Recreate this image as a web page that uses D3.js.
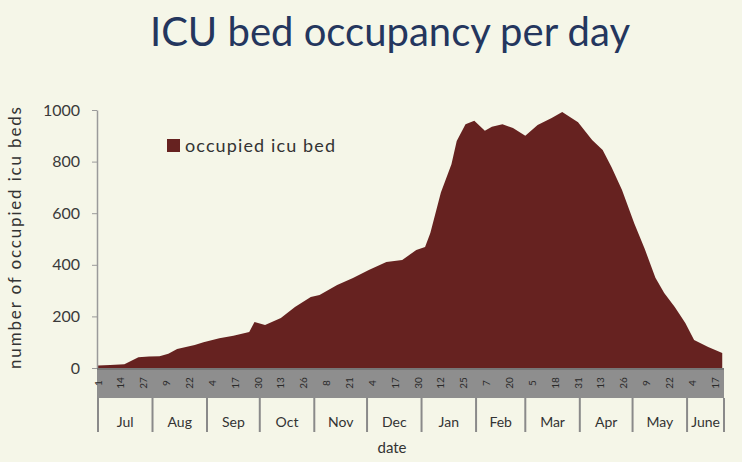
<!DOCTYPE html>
<html>
<head>
<meta charset="utf-8">
<script src="https://cdn.jsdelivr.net/npm/d3@7"></script>
<style>
  html, body { margin: 0; padding: 0; background: #f5f6e8; }
  svg { display: block; }
</style>
</head>
<body>
<div id="chart"></div>
<script>
// sampled readings of the occupied icu beds series (date -> beds)
var dates = ["2020-07-01","2020-07-08","2020-07-16","2020-07-24","2020-07-30","2020-08-05","2020-08-10","2020-08-15",
  "2020-08-25","2020-08-30","2020-09-08","2020-09-16","2020-09-25","2020-09-28","2020-10-04","2020-10-13",
  "2020-10-21","2020-10-30","2020-11-04","2020-11-14","2020-11-23","2020-12-02","2020-12-12","2020-12-21",
  "2020-12-29","2021-01-03","2021-01-06","2021-01-12","2021-01-18","2021-01-21","2021-01-26","2021-01-31",
  "2021-02-06","2021-02-10","2021-02-16","2021-02-22","2021-03-01","2021-03-08","2021-03-16","2021-03-22",
  "2021-03-31","2021-04-08","2021-04-14","2021-04-19","2021-04-25","2021-05-02","2021-05-08","2021-05-14",
  "2021-05-19","2021-05-25","2021-05-31","2021-06-05","2021-06-13","2021-06-21"]
var beds = [10, 12, 15, 42, 45, 46, 55, 74,
  89, 100, 115, 125, 140, 178, 167, 194,
  236, 275, 283, 322, 349, 380, 411, 419,
  457, 469, 523, 680, 790, 880, 945, 958,
  920, 935, 945, 930, 900, 942, 969, 992,
  953, 884, 845, 779, 690, 560, 460, 350,
  291, 236, 174, 109, 81, 58]

var yTicks = [0, 200, 400, 600, 800, 1000]
var dayTicks = ["2020-07-01","2020-07-14","2020-07-27","2020-08-09","2020-08-22","2020-09-04","2020-09-17",
  "2020-09-30","2020-10-13","2020-10-26","2020-11-08","2020-11-21","2020-12-04","2020-12-17","2020-12-30",
  "2021-01-12","2021-01-25","2021-02-07","2021-02-20","2021-03-05","2021-03-18","2021-03-31","2021-04-13",
  "2021-04-26","2021-05-09","2021-05-22","2021-06-04","2021-06-17"]
var monthStarts = ["2020-07-01","2020-08-01","2020-09-01","2020-10-01","2020-11-01","2020-12-01",
  "2021-01-01","2021-02-01","2021-03-01","2021-04-01","2021-05-01","2021-06-01","2021-06-22"]
var monthLabels = ["Jul","Aug","Sep","Oct","Nov","Dec","Jan","Feb","Mar","Apr","May","June"]

var parse = d3.timeParse("%Y-%m-%d")
var data = dates.map(function(d, i) { return {date: parse(d), value: beds[i]} })

var width = 742, height = 462
var svg = d3.select("#chart").append("svg")
  .attr("width", width)
  .attr("height", height)

svg.append("rect").attr("width", width).attr("height", height).attr("fill", "#f5f6e8")

// title
svg.append("text")
  .attr("x", 390).attr("y", 46)
  .attr("text-anchor", "middle")
  .style("font-family", "Lato, 'Open Sans', sans-serif")
  .style("font-size", "40px")
  .style("fill", "#24365e")
  .text("ICU bed occupancy per day")

var x = d3.scaleTime()
  .domain([parse("2020-07-01"), parse("2021-06-22")])
  .range([98, 724])

var y = d3.scaleLinear()
  .domain([0, 1000])
  .range([368, 110])

// area
var area = d3.area()
  .x(function(d) { return x(d.date) })
  .y0(y(0))
  .y1(function(d) { return y(d.value) })

svg.append("path")
  .datum(data)
  .attr("d", area)
  .attr("fill", "#662220")

// y axis
var yAxis = svg.append("g")
  .attr("transform", "translate(97,0)")
  .call(d3.axisLeft(y).tickValues(yTicks).tickFormat(d3.format("d")).tickSize(5).tickSizeOuter(0).tickPadding(12))
yAxis.select(".domain").attr("stroke", "#9a9a9a").attr("stroke-width", 1.5)
yAxis.selectAll(".tick line").attr("stroke", "#9a9a9a")
yAxis.selectAll("text")
  .style("font-family", "Lato, sans-serif")
  .style("font-size", "16px")
  .style("fill", "#3a3a3a")

svg.append("text")
  .attr("transform", "translate(21,238) rotate(-90)")
  .attr("text-anchor", "middle")
  .attr("textLength", 262)
  .attr("lengthAdjust", "spacing")
  .style("font-family", "Lato, sans-serif")
  .style("font-size", "17px")
  .style("fill", "#333")
  .text("number of occupied icu beds")

// grey band holding the day labels
svg.append("rect")
  .attr("x", 97).attr("y", 368)
  .attr("width", x(parse("2021-06-22")) - 97)
  .attr("height", 30)
  .attr("fill", "#8e8e8e")
svg.append("line")
  .attr("x1", 97).attr("x2", x(parse("2021-06-22")))
  .attr("y1", 369).attr("y2", 369)
  .attr("stroke", "#777").attr("stroke-width", 2)

svg.selectAll(".dayLabel")
  .data(dayTicks)
  .enter()
  .append("text")
    .attr("class", "dayLabel")
    .attr("transform", function(d) { return "translate(" + (x(parse(d)) + 3.5) + ",383) rotate(-90)" })
    .attr("text-anchor", "middle")
    .style("font-family", "Lato, sans-serif")
    .style("font-size", "10px")
    .style("fill", "#2a2a2a")
    .text(function(d) { return +d.slice(8) })

// month row
var months = monthStarts.map(parse)
svg.selectAll(".monthSep")
  .data(months)
  .enter()
  .append("line")
    .attr("class", "monthSep")
    .attr("x1", function(d) { return x(d) })
    .attr("x2", function(d) { return x(d) })
    .attr("y1", 398).attr("y2", 432)
    .attr("stroke", "#8a8a8a").attr("stroke-width", 2)

svg.selectAll(".monthLabel")
  .data(monthLabels)
  .enter()
  .append("text")
    .attr("class", "monthLabel")
    .attr("x", function(d, i) { return (x(months[i]) + x(months[i + 1])) / 2 })
    .attr("y", 427)
    .attr("text-anchor", "middle")
    .style("font-family", "Lato, sans-serif")
    .style("font-size", "14px")
    .style("fill", "#333")
    .text(function(d) { return d })

svg.append("text")
  .attr("x", 392).attr("y", 453)
  .attr("text-anchor", "middle")
  .style("font-family", "Lato, sans-serif")
  .style("font-size", "15px")
  .style("fill", "#333")
  .text("date")

// legend
svg.append("rect")
  .attr("x", 167).attr("y", 139)
  .attr("width", 13).attr("height", 13)
  .attr("fill", "#662220")
svg.append("text")
  .attr("x", 185).attr("y", 152)
  .attr("textLength", 150)
  .attr("lengthAdjust", "spacing")
  .style("font-family", "Lato, sans-serif")
  .style("font-size", "18px")
  .style("fill", "#333")
  .text("occupied icu bed")
</script>
</body>
</html>
